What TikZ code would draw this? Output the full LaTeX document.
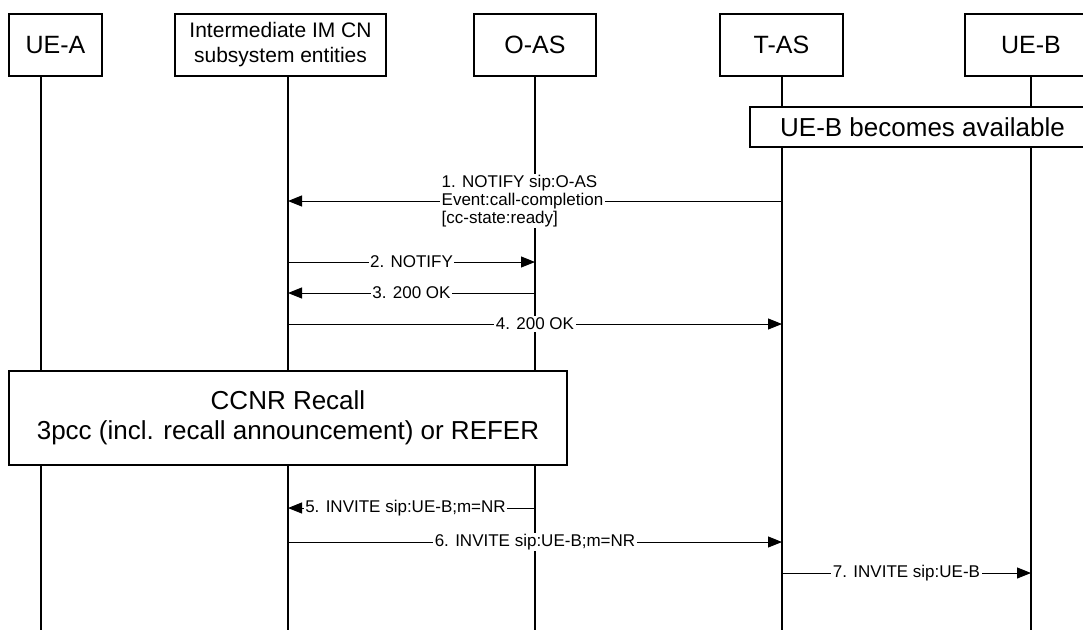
\documentclass[tikz,border=0pt]{standalone}
\usepackage{fontspec}
\setmainfont{Liberation Sans}
\usetikzlibrary{arrows.meta,positioning}

\begin{document}
\begin{tikzpicture}[
    x=1pt,y=-1pt,
    ent/.style={draw,fill=white,line width=1.1pt,minimum height=62pt,align=center,inner sep=0pt,font=\fontsize{25}{29}\selectfont},
    bigbox/.style={draw,fill=white,line width=1.1pt,align=center,inner sep=0pt,font=\fontsize{26}{30}\selectfont},
    life/.style={line width=1.1pt},
    msg/.style={-{Triangle[length=14pt,width=11pt]},line width=1pt},
    lbl/.style={fill=white,inner sep=1.5pt,font=\fontsize{17}{18}\selectfont}
  ]
    \useasboundingbox (0,0) rectangle (1083,630);

    % lifelines
    \coordinate (lA) at (41,76);
    \coordinate (lIM) at (288,76);
    \coordinate (lO) at (535,76);
    \coordinate (lT) at (782,76);
    \coordinate (lB) at (1031,76);
    \foreach \l in {lA,lIM,lO,lT,lB}
      \draw[life] (\l) -- (\l |- 0,630);

    % entities
    \node[ent,minimum width=93pt] (uea) at (55.5,45) {UE-A};
    \node[ent,minimum width=211pt,font=\fontsize{21}{25}\selectfont] (imcn) at (280.5,45) {Intermediate IM CN\\subsystem entities};
    \node[ent,minimum width=122pt] (oas) at (535,45) {O-AS};
    \node[ent,minimum width=123pt] (tas) at (781.5,45) {T-AS};
    \node[ent,minimum width=132pt] (ueb) at (1031,45) {UE-B};

    \node[bigbox,minimum width=345pt,minimum height=40pt] (avail) at (922.5,127) {UE-B becomes available};
    \node[bigbox,minimum width=558pt,minimum height=94pt] (recall) at (288,418) {CCNR Recall\\3pcc (incl. recall announcement) or REFER};

    % messages
    \draw[msg] (lT |- 0,201) -- (lIM |- 0,201);
    \node[lbl,anchor=west,align=left] (m1) at (440,201) {1. NOTIFY sip:O-AS\\Event:call-completion\\{[cc-state:ready]}};
    \draw[msg] (lIM |- 0,262) -- node[lbl] (m2) {2. NOTIFY} (lO |- 0,262);
    \draw[msg] (lO |- 0,293) -- node[lbl] (m3) {3. 200 OK} (lIM |- 0,293);
    \draw[msg] (lIM |- 0,324) -- node[lbl] (m4) {4. 200 OK} (lT |- 0,324);
    \draw[msg] (lO |- 0,508) -- node[lbl,xshift=-6pt] (m5) {5. INVITE sip:UE-B;m=NR} (lIM |- 0,508);
    \draw[msg] (lIM |- 0,542) -- node[lbl] (m6) {6. INVITE sip:UE-B;m=NR} (lT |- 0,542);
    \draw[msg] (lT |- 0,573) -- node[lbl] (m7) {7. INVITE sip:UE-B} (lB |- 0,573);
  \end{tikzpicture}
\end{document}
